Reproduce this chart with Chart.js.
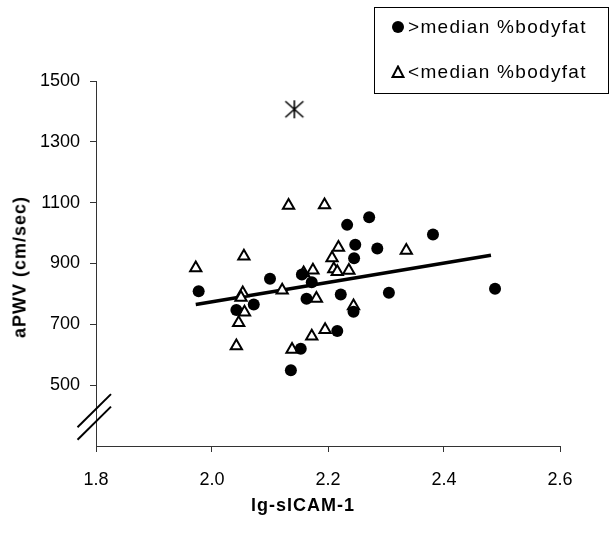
<!DOCTYPE html>
<html>
<head>
<meta charset="utf-8">
<script src="https://cdn.jsdelivr.net/npm/chart.js@4.4.1/dist/chart.umd.min.js"></script>
<style>
  body { margin: 0; background: #fff; }
  #wrap { position: relative; width: 613px; height: 535px; font-family: "Liberation Sans", Arial, sans-serif; }
  #grafico { position: absolute; left: 0; top: 0; }
  .titulo { position: absolute; font-weight: bold; font-size: 18px; letter-spacing: 1px; color: #000; white-space: nowrap; }
  #tx { left: 303px; top: 505px; transform: translate(-50%, -50%); }
  #ty { left: 20px; top: 267px; transform: translate(-50%, -50%) rotate(-90deg); }
  #legenda { position: absolute; left: 374px; top: 7px; width: 233px; height: 85px; border: 1px solid #000; }
  .item { position: absolute; left: 16px; height: 22px; display: flex; align-items: center; font-size: 19px; letter-spacing: 1.3px; white-space: nowrap; }
  .item svg { margin-right: 3px; }
</style>
</head>
<body>
<div id="wrap">
  <canvas id="grafico" width="613" height="535"></canvas>
  <div class="titulo" id="tx">lg-sICAM-1</div>
  <div class="titulo" id="ty">aPWV (cm/sec)</div>
  <div id="legenda">
    <div class="item" style="top:8px"><svg width="14" height="14"><circle cx="7" cy="7" r="6" fill="#000"/></svg><span id="leg0"></span></div>
    <div class="item" style="top:53px"><svg width="14" height="14"><polygon points="7,1.5 12.5,12 1.5,12" fill="#fff" stroke="#000" stroke-width="2"/></svg><span id="leg1"></span></div>
  </div>
</div>
<script>
// grupo acima da mediana (circulos)
const acimaX = [1.977, 2.042, 2.072, 2.100, 2.155, 2.172, 2.163, 2.153, 2.136, 2.216, 2.222, 2.244, 2.245, 2.247, 2.233, 2.271, 2.285, 2.305, 2.381, 2.488];
const acimaY = [809, 747, 765, 850, 864, 838, 784, 620, 549, 678, 798, 741, 917, 962, 1027, 1052, 949, 804, 995, 817];
// grupo abaixo da mediana (triangulos)
const abaixoX = [1.972, 2.055, 2.053, 2.050, 2.056, 2.046, 2.042, 2.121, 2.158, 2.174, 2.180, 2.138, 2.172, 2.195, 2.244, 2.207, 2.210, 2.216, 2.218, 2.236, 2.335, 2.132, 2.194];
const abaixoY = [885, 924, 803, 788, 740, 705, 629, 812, 869, 878, 785, 617, 661, 682, 760, 918, 882, 873, 953, 877, 943, 1091, 1092];
// ponto fora (asterisco)
const foraX = [2.142];
const foraY = [1407];
// reta de regressao
const retaX = [1.972, 2.481];
const retaY = [765, 927];

const xTicks = [1.8, 2.0, 2.2, 2.4, 2.6];
const yTicks = [500, 700, 900, 1100, 1300, 1500];
const legendas = ['>median %bodyfat', '<median %bodyfat'];

document.getElementById('leg0').textContent = legendas[0];
document.getElementById('leg1').textContent = legendas[1];

function juntar(xs, ys) {
  let pts = [];
  for (let i = 0; i < xs.length; i++) pts.push({x: xs[i], y: ys[i]});
  return pts;
}

// asterisco de 6 bracos
const ast = document.createElement('canvas');
ast.width = 22; ast.height = 22;
let a = ast.getContext('2d');
a.strokeStyle = '#000'; a.lineWidth = 1.6;
a.beginPath();
a.moveTo(11, 2); a.lineTo(11, 20);
a.moveTo(2, 3); a.lineTo(20, 19);
a.moveTo(20, 3); a.lineTo(2, 19);
a.stroke();

// marcas de quebra do eixo y
const quebra = {
  id: 'quebra',
  afterDraw(chart) {
    const ctx = chart.ctx;
    const left = chart.chartArea.left;
    const ys = chart.scales.y;
    ctx.save();
    ctx.strokeStyle = '#000';
    ctx.lineWidth = 2;
    [416, 375].forEach(function (v) {
      let yy = ys.getPixelForValue(v);
      ctx.beginPath();
      ctx.moveTo(left - 18.5, yy + 16.6);
      ctx.lineTo(left + 15, yy - 16.6);
      ctx.stroke();
    });
    ctx.restore();
  }
};

const eixo = {
  border: { color: '#333', width: 1 },
  grid: { drawOnChartArea: false, tickLength: 6, color: '#333' },
};

new Chart(document.getElementById('grafico'), {
  type: 'scatter',
  data: {
    datasets: [
      {
        label: legendas[0],
        data: juntar(acimaX, acimaY),
        pointStyle: 'circle',
        pointRadius: 6,
        backgroundColor: '#000',
        borderWidth: 0
      },
      {
        label: legendas[1],
        data: juntar(abaixoX, abaixoY),
        pointStyle: 'triangle',
        pointRadius: 6.5,
        backgroundColor: '#fff',
        borderColor: '#000',
        borderWidth: 2
      },
      {
        label: 'fora',
        data: juntar(foraX, foraY),
        pointStyle: ast,
        pointRadius: 11
      },
      {
        label: 'reta',
        type: 'line',
        data: juntar(retaX, retaY),
        borderColor: '#000',
        borderWidth: 3.5,
        pointRadius: 0,
        fill: false
      }
    ]
  },
  options: {
    responsive: false,
    animation: false,
    layout: { padding: { top: 81, right: 53, left: 0, bottom: 0 } },
    plugins: { legend: { display: false }, tooltip: { enabled: false } },
    scales: {
      x: {
        type: 'linear',
        min: 1.8, max: 2.6,
        border: eixo.border, grid: eixo.grid,
        afterBuildTicks: function (s) { s.ticks = xTicks.map(v => ({value: v})); },
        afterFit: function (s) { s.height = 89; },
        ticks: {
          padding: 17, color: '#000',
          font: { family: 'Liberation Sans', size: 18 },
          callback: v => v.toFixed(1)
        }
      },
      y: {
        min: 300, max: 1500,
        border: eixo.border, grid: eixo.grid,
        afterBuildTicks: function (s) { s.ticks = yTicks.map(v => ({value: v})); },
        afterFit: function (s) { s.width = 96; },
        ticks: {
          padding: 10, color: '#000',
          font: { family: 'Liberation Sans', size: 18 },
          callback: v => String(v)
        }
      }
    }
  },
  plugins: [quebra]
});
</script>
</body>
</html>
